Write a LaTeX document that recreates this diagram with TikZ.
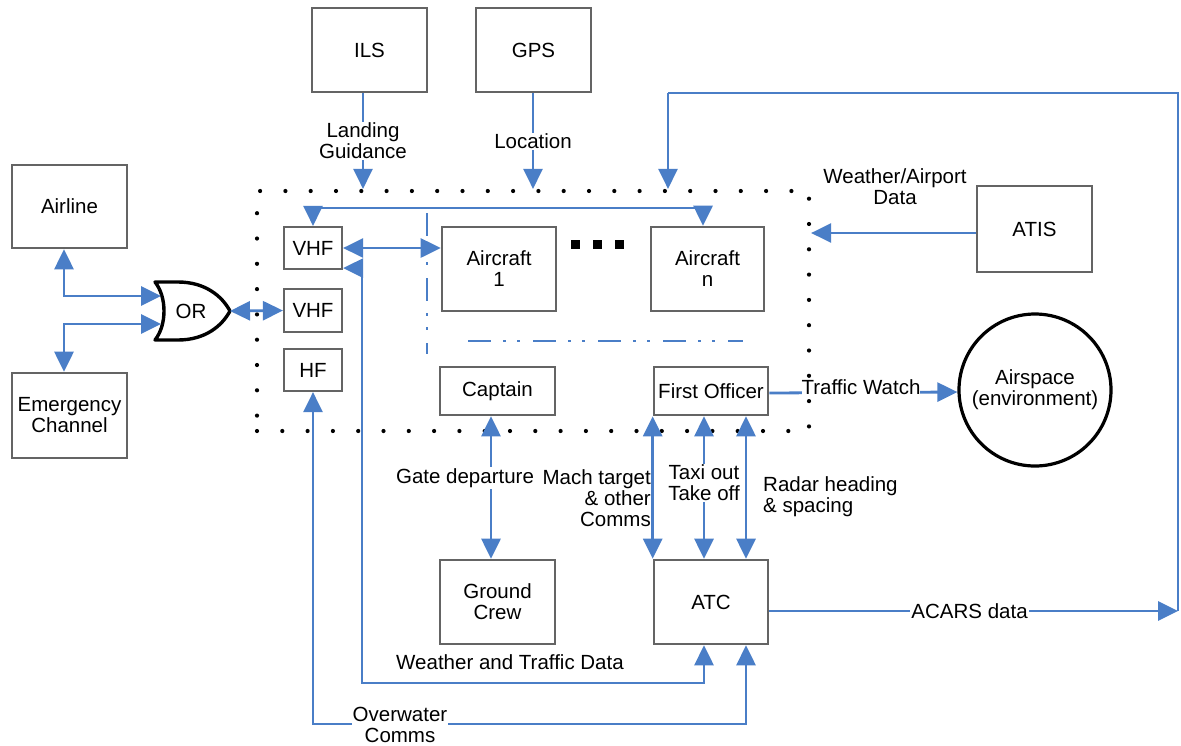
\documentclass[tikz,border=0pt]{standalone}
\usepackage{fontspec}
\setmainfont{Liberation Sans}
\usetikzlibrary{arrows.meta}
\definecolor{lblue}{RGB}{74,126,199}
\definecolor{bgray}{RGB}{100,100,100}
\begin{document}
\begin{tikzpicture}[x=1pt,y=-1pt,
  >={Triangle[length=20pt,width=19pt]},
  txt/.style={font=\fontsize{20.5}{21}\selectfont},
  box/.style={txt,draw=bgray,line width=2.6pt,fill=white,align=center,inner sep=0pt},
  conn/.style={draw=lblue,line width=2.8pt},
  lab/.style={txt,fill=white,inner sep=1pt,align=center},
  dd/.style={draw=lblue,line width=2.8pt,dash pattern=on 23pt off 12pt on 3pt off 11pt on 3pt off 13pt},
  framebox/.style={draw=black,line width=4.2pt,line cap=round,dash pattern=on 0pt off 25.3pt,inner sep=0pt},
  sq/.style={fill=black,minimum size=9pt,inner sep=0pt}]
\useasboundingbox[fill=white] (0,0) rectangle (1181,745);

% dotted frame
\node[framebox,minimum width=552pt,minimum height=240pt] (frame) at (533,311) {};

% boxes
\node[box,minimum width=115pt,minimum height=83pt] (airline) at (69.5,206.5) {Airline};
\node[box,minimum width=115pt,minimum height=85pt] (emerg) at (69.5,415.5) {Emergency\\Channel};
\node[box,minimum width=115pt,minimum height=84pt] (ils) at (369.5,50) {ILS};
\node[box,minimum width=115pt,minimum height=84pt] (gps) at (533.5,50) {GPS};
\node[box,line width=2.2pt,minimum width=58pt,minimum height=42pt] (vhfa) at (313,248) {VHF};
\node[box,line width=2.2pt,minimum width=58pt,minimum height=43pt] (vhfb) at (313,310.5) {VHF};
\node[box,line width=2.2pt,minimum width=58pt,minimum height=42pt] (hf) at (313,370) {HF};
\node[box,minimum width=114pt,minimum height=84pt] (acone) at (499,269) {Aircraft\\1};
\node[box,minimum width=113pt,minimum height=84pt] (acn) at (707.5,269) {Aircraft\\n};
\node[box,minimum width=115pt,minimum height=48pt] (captain) at (497.5,391) {Captain};
\node[box,minimum width=114pt,minimum height=48pt] (fo) at (711,391) {First Officer};
\node[box,minimum width=115pt,minimum height=84pt] (ground) at (497.5,602) {Ground\\Crew};
\node[box,minimum width=114pt,minimum height=84pt] (atc) at (711,602) {ATC};
\node[box,minimum width=115pt,minimum height=86pt] (atis) at (1034.5,229) {ATIS};
\node[txt,circle,draw=black,line width=3.2pt,minimum size=152pt,inner sep=0pt,align=center] (airspace) at (1035,390) {Airspace\\(environment)};

% ellipsis squares
\node[sq] (e1) at (575.5,244) {};
\node[sq] (e2) at (597.5,244) {};
\node[sq] (e3) at (619.5,244) {};

% OR gate
\draw[black,line width=3.4pt,line join=round,fill=white] (155,282) -- (178,282) .. controls (205,282) and (222,296) .. (230,311)
  .. controls (222,326) and (205,340) .. (178,340) -- (155,340) .. controls (167,325) and (167,297) .. (155,282) -- cycle;
\node[txt] (orlabel) at (191,311) {OR};
\coordinate (orout) at (230,311);
\coordinate (orin1) at (161,296);
\coordinate (orin2) at (161,324);

% dash-dot lines
\draw[dd] (427,213) -- (427,354);
\draw[dd] (468,341) -- (743,341);

% connectors
\draw[conn,<->] ([xshift=-5.5pt]airline.south) |- (orin1);
\draw[conn,<->] ([xshift=-5.5pt]emerg.north) |- (orin2);
\draw[conn,<->] (orout) -- (vhfb.west);

\draw[conn,->] ([xshift=-6.5pt]ils.south) -- ([xshift=-6.5pt]ils.south |- frame.north)
  node[lab,midway] {Landing\\Guidance};
\draw[conn,->] ([xshift=-0.5pt]gps.south) -- ([xshift=-0.5pt]gps.south |- frame.north)
  node[lab,midway] {Location};

\coordinate (busl) at (313,208);
\coordinate (busr) at (703,208);
\draw[conn,<->] (vhfa.north) -- (busl) -- (busr) -- (busr |- acn.north);
\draw[conn,<->] (vhfa.east) -- (vhfa.east -| acone.west);

\coordinate (acars) at (1178,611);
\coordinate (loopa) at (1178,93);
\coordinate (loopb) at (668,93);
\draw[conn,->] (atc.east |- acars) -- (acars) node[lab,pos=0.49] {ACARS data};
\draw[conn] (acars) -- (loopa) -- (loopb);
\draw[conn,->] (loopb) -- (loopb |- frame.north);

\draw[conn,->] ([yshift=-4pt]atis.west) -- ([yshift=-4pt]atis.west -| frame.east);
\node[txt,align=center] (wxlab) at (895,187) {Weather/Airport\\Data};

\draw[conn,->] ([yshift=-2pt]fo.east) -- ([yshift=-2pt]airspace.west);
\node[lab,inner sep=0pt] (twlab) at (861,387) {Traffic Watch};

\draw[conn,<->] ([xshift=-6.5pt]captain.south) -- ([xshift=-6.5pt]ground.north);
\node[lab] (gatelab) at (465,478) {Gate departure};

\draw[conn,<->] (fo.south west) -- (atc.north west);
\draw[conn,<->] ([xshift=-7pt]fo.south) -- ([xshift=-7pt]atc.north);
\draw[conn,<->] ([xshift=35pt]fo.south) -- ([xshift=35pt]atc.north);
\node[txt,align=right,anchor=east,inner sep=0pt] (machlab) at (651,498) {Mach target\\\& other\\Comms};
\node[lab] (taxilab) at (704,483) {Taxi out\\Take off};
\node[txt,align=left,anchor=west,inner sep=0pt] (radarlab) at (763,497) {Radar heading\\\& spacing};

\coordinate (wt) at (362,683);
\draw[conn,<->] ([yshift=2pt]vhfa.south east) -| (wt) -| ([xshift=-7pt]atc.south);
\node[txt] (wtlab) at (510,662) {Weather and Traffic Data};

\coordinate (ow) at (313,724);
\draw[conn,<->] (hf.south) -- (ow) -| ([xshift=35pt]atc.south);
\node[lab] (owlab) at (400,725) {Overwater\\Comms};
\end{tikzpicture}
\end{document}
